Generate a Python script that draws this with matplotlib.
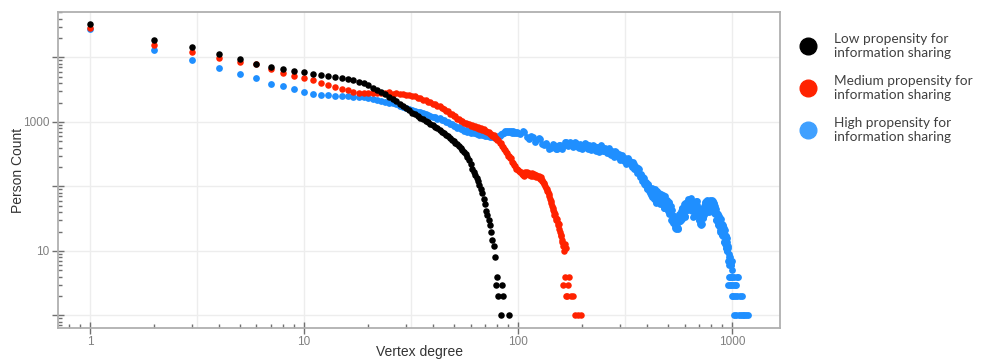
import numpy as np
import matplotlib
matplotlib.use('Agg')
import matplotlib.pyplot as plt
from matplotlib.lines import Line2D
from matplotlib.ticker import LogLocator, NullFormatter

# low propensity: degrees 1..78 then sparse tail
low_cnt = [32700, 18900, 14400, 11500, 9600, 8000, 7050, 6600, 6200, 5900,
           5600, 5380, 5200, 5050, 4880, 4700, 4450, 4200, 3950, 3700,
           3420, 3180, 2950, 2700, 2480, 2290, 2110, 1930, 1780, 1650,
           1530, 1400, 1310, 1230, 1160, 1100, 1040, 990, 940, 900,
           850, 800, 760, 710, 670, 630, 600, 560, 530, 500,
           480, 460, 430, 400, 370, 345, 315, 285, 255, 225,
           190, 165, 150, 135, 120, 105, 92, 80, 65, 53,
           42, 36, 30, 25, 20, 15, 12, 8]
low_tail_deg = [79, 80, 81, 83, 84, 85, 91]
low_tail_cnt = [3, 4, 2, 1, 3, 2, 1]

# medium propensity: degrees 1..162 then tail
med_cnt = [29000, 15600, 12000, 9700, 8600, 7800, 6700, 5800, 5200, 4760,
           4400, 4000, 3760, 3540, 3260, 3080, 2920, 2830, 2790, 2780,
           2790, 2800, 2830, 2850, 2900, 2760, 2820, 2700, 2760, 2650,
           2660, 2500, 2500, 2330, 2330, 2170, 2180, 2040, 2050, 1920,
           1900, 1770, 1760, 1620, 1600, 1480, 1460, 1350, 1330, 1240,
           1230, 1130, 1130, 1050, 1050, 970, 975, 915, 925, 875,
           885, 845, 860, 815, 825, 785, 800, 760, 770, 730,
           735, 695, 700, 655, 660, 615, 620, 570, 570, 520,
           520, 470, 465, 420, 415, 380, 370, 345, 335, 300,
           300, 272, 272, 240, 235, 215, 210, 190, 188, 180,
           172, 165, 170, 158, 152, 160, 148, 165, 155, 168,
           158, 150, 162, 155, 145, 160, 152, 148, 158, 150,
           142, 152, 145, 138, 148, 140, 132, 138, 128, 122,
           118, 112, 108, 100, 95, 92, 86, 82, 76, 70,
           64, 60, 55, 50, 46, 43, 40, 36, 38, 33,
           30, 31, 27, 25, 26, 22, 20, 17, 18, 15,
           14, 12]
med_tail_deg = [163, 164, 165, 166, 167, 168, 170, 172, 173, 176, 180, 185, 190, 196]
med_tail_cnt = [3, 10, 13, 4, 2, 11, 2, 3, 4, 2, 2, 1, 1, 1]

# high propensity: degrees 1..100, then every 5th degree up to 1000, then tail
high_cnt = [28000, 13200, 9060, 6950, 5610, 4810, 3930, 3570, 3210, 2880,
            2720, 2640, 2590, 2550, 2530, 2500, 2470, 2440, 2400, 2330,
            2260, 2170, 2090, 2030, 1990, 1950, 1870, 1800, 1730, 1660,
            1590, 1520, 1480, 1450, 1420, 1390, 1340, 1300, 1250, 1210,
            1200, 1120, 1140, 1060, 1080, 990, 1000, 925, 935, 870,
            880, 815, 835, 780, 790, 735, 760, 705, 730, 680,
            705, 665, 690, 650, 675, 635, 660, 625, 650, 615,
            640, 605, 630, 595, 620, 580, 600, 565, 590, 570,
            610, 610, 655, 640, 685, 665, 720, 690, 730, 695,
            735, 690, 725, 685, 720, 675, 710, 670, 700, 665]
# degrees 105..1000, every 5th
high_mid_cnt = [730, 580, 615, 485, 570, 455, 480, 378, 455, 385,
                440, 378, 493, 432, 494, 410, 490, 403, 450, 377,
                475, 397, 441, 367, 444, 368, 412, 344, 432, 361,
                399, 329, 390, 317, 352, 290, 358, 293, 319, 261,
                311, 253, 277, 227, 280, 229, 250, 203, 237, 189,
                201, 160, 193, 152, 158, 122, 138, 108, 114, 90,
                108, 85, 90, 73, 94, 65, 80, 57, 86, 61,
                77, 54, 77, 53, 66, 46, 70, 49, 60, 42,
                58, 38, 45, 30, 43, 29, 35, 23, 32, 22,
                30, 22, 38, 29, 39, 30, 46, 34, 45, 34,
                56, 43, 58, 43, 65, 47, 62, 44, 66, 45,
                53, 34, 48, 36, 50, 40, 60, 40, 46, 30,
                40, 26, 33, 25, 41, 32, 46, 36, 56, 42,
                55, 40, 61, 43, 55, 40, 61, 44, 58, 42,
                62, 43, 57, 39, 55, 37, 44, 30, 45, 31,
                37, 25, 35, 24, 30, 21, 31, 22, 26, 18,
                25, 17, 21, 14, 21, 14, 17, 11, 16, 10,
                11, 3, 9, 4, 8, 3, 6, 4, 7, 2]
# degrees 102..347, every 5th
high_mid2_cnt = [641, 689, 549, 587, 519, 540, 435, 438, 397, 441,
                 377, 438, 421, 482, 426, 460, 428, 469, 392, 443,
                 413, 455, 386, 410, 386, 426, 358, 406, 377, 415,
                 351, 370, 343, 372, 308, 345, 316, 340, 283, 295,
                 273, 297, 244, 271, 247, 266, 221, 231, 211, 224]
# degrees 352..997, every 5th
high_mid3_cnt = [184, 203, 171, 187, 140, 150, 123, 134, 105, 116,
                 96, 104, 78, 87, 68, 91, 69, 90, 56, 76,
                 60, 80, 55, 74, 56, 74, 46, 61, 47, 62,
                 43, 55, 40, 49, 29, 36, 27, 35, 24, 32,
                 24, 34, 23, 34, 29, 42, 31, 46, 37, 53,
                 35, 51, 43, 58, 45, 60, 51, 64, 43, 57,
                 42, 53, 35, 48, 40, 59, 39, 51, 37, 46,
                 30, 38, 28, 38, 26, 37, 33, 50, 38, 57,
                 46, 60, 40, 53, 42, 58, 43, 57, 48, 60,
                 41, 54, 43, 59, 40, 53, 39, 49, 30, 39,
                 29, 37, 26, 33, 25, 33, 20, 26, 20, 26,
                 18, 24, 17, 23, 14, 18, 13, 17, 11, 14,
                 10, 12, 7, 8, 6, 7, 4, 6, 3, 5]
high_tail_deg = [1005, 1010, 1015, 1020, 1025, 1030, 1035, 1040, 1045, 1050,
                 1060, 1070, 1080, 1090, 1100, 1110, 1125, 1140, 1160, 1185]
high_tail_cnt = [4, 2, 3, 1, 4, 2, 3, 1, 3, 4, 2, 4, 1, 2, 1, 2, 1, 1, 1, 1]

labels = ['Low propensity for\ninformation sharing',
          'Medium propensity for\ninformation sharing',
          'High propensity for\ninformation sharing']

low_x = np.concatenate([np.arange(1, len(low_cnt) + 1), low_tail_deg])
low_y = np.concatenate([low_cnt, low_tail_cnt])
med_x = np.concatenate([np.arange(1, len(med_cnt) + 1), med_tail_deg])
med_y = np.concatenate([med_cnt, med_tail_cnt])
high_x = np.concatenate([np.arange(1, len(high_cnt) + 1), np.arange(105, 1001, 5),
                         np.arange(102, 348, 5), np.arange(352, 998, 5), high_tail_deg])
high_y = np.concatenate([high_cnt, high_mid_cnt, high_mid2_cnt, high_mid3_cnt, high_tail_cnt])

plt.rcParams['font.family'] = ['Liberation Sans', 'DejaVu Sans']

fig = plt.figure(figsize=(9.85, 3.6), dpi=100)
ax = fig.add_axes([58 / 985, 32 / 360, 722 / 985, 316 / 360])
ax.set_xscale('log')
ax.set_yscale('log')
ax.set_xlim(0.709, 1676)
ax.set_ylim(0.64, 50700)

# grid
for gx in [1, 10 ** 0.5, 10, 10 ** 1.5, 100, 10 ** 2.5, 1000]:
    ax.axvline(gx, color='#ededed', lw=1, zorder=0)
for gy in [1, 10, 100, 1000, 10000]:
    ax.axhline(gy, color='#ededed', lw=1, zorder=0)

ax.scatter(high_x, high_y, s=24, color='#1f8fff', lw=0, zorder=2)
ax.scatter(med_x, med_y, s=22, color='#ff2200', lw=0, zorder=3)
ax.scatter(low_x, low_y, s=22, color='black', lw=0, zorder=4)

for sp in ax.spines.values():
    sp.set_color('#b0b0b0')
    sp.set_linewidth(1.3)

ax.set_xticks([1, 10, 100, 1000])
ax.set_xticklabels(['1', '10', '100', '1000'])
ax.xaxis.set_minor_locator(LogLocator(base=10, subs=range(2, 10), numticks=20))
ax.xaxis.set_minor_formatter(NullFormatter())
ax.set_yticks([1, 10, 100, 1000, 10000])
ax.set_yticklabels(['', '10', '', '1000', ''])
ax.yaxis.set_minor_locator(LogLocator(base=10, subs=range(2, 10), numticks=20))
ax.yaxis.set_minor_formatter(NullFormatter())
ax.tick_params(which='major', direction='inout', length=8, width=1, color='#707070',
               labelsize=8.5, labelcolor='#808080', pad=2)
ax.tick_params(which='minor', direction='in', length=3, width=1, color='#707070')

ax.set_xlabel('Vertex degree', fontsize=10, color='#333333', va='center')
ax.xaxis.set_label_coords(0.5, -(352 - 328) / 316)
ax.set_ylabel('Person Count', fontsize=10, color='#333333', va='center', ha='center')
ax.yaxis.set_label_coords((18 - 58) / 722, 0.5)

handles = [Line2D([], [], marker='o', ls='', markersize=12, color=c)
           for c in ['black', '#ff2200', '#40a0ff']]
fig.legend(handles, labels, loc='upper left', bbox_to_anchor=(782 / 985, 1 - 21 / 360),
           frameon=False, prop={'family': 'Lato', 'size': 9.8}, labelcolor='#404040',
           handlelength=2.0, handletextpad=0.9, labelspacing=1.15)

fig.savefig('out.png', dpi=100)
